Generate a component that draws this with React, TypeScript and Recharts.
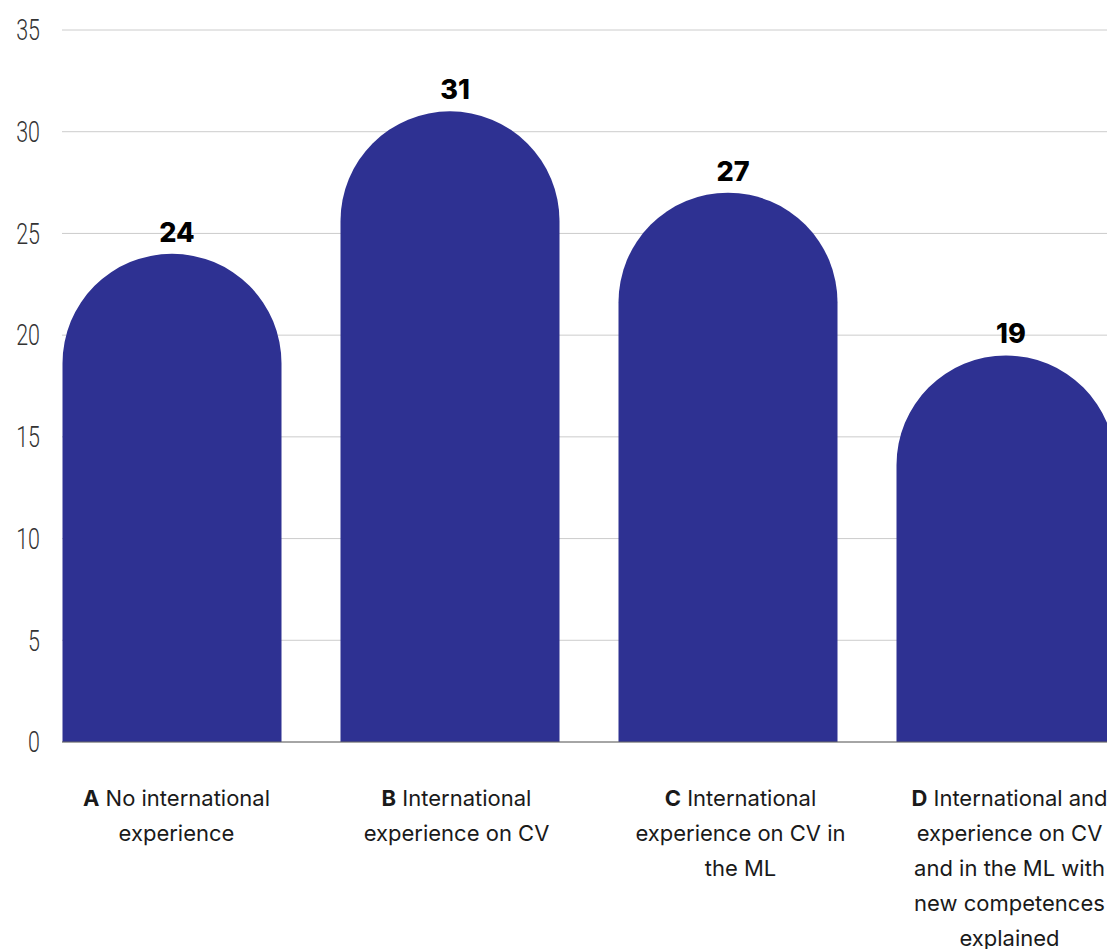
import React from 'react';
import { BarChart, Bar, XAxis, YAxis, CartesianGrid, LabelList } from 'recharts';

const categories = ['A', 'B', 'C', 'D'];
const values = [24, 31, 27, 19];
const labelLines: string[][] = [
  ['No international', 'experience'],
  ['International', 'experience on CV'],
  ['International', 'experience on CV in', 'the ML'],
  ['International and', 'experience on CV', 'and in the ML with', 'new competences', 'explained'],
];
const yTicks = [0, 5, 10, 15, 20, 25, 30, 35];

const data = categories.map((c, i) => ({ cat: c, value: values[i] }));

const BAR_COLOR = '#2E3192';
// horizontal nudges of the category labels (layout only)
const TICK_SHIFT: Record<string, number> = { A: 5, B: 7, C: 13, D: 4 };

const XTick = (props: any) => {
  const { x, y, payload } = props;
  const idx = categories.indexOf(payload.value);
  const lines = labelLines[idx] || [];
  const cx = x + (TICK_SHIFT[payload.value] ?? 5);
  return (
    <g>
      {lines.map((ln, i) => (
        <text
          key={i}
          x={cx}
          y={y + 56 + i * 35}
          textAnchor="middle"
          fontFamily="Inter, 'Noto Sans', sans-serif"
          fontSize={22}
          fill="#1a1a1a"
        >
          {i === 0 ? (
            <>
              <tspan fontWeight={700}>{payload.value}</tspan>
              <tspan> {ln}</tspan>
            </>
          ) : (
            ln
          )}
        </text>
      ))}
    </g>
  );
};

const YTick = (props: any) => {
  const { x, y, payload } = props;
  return (
    <g transform={`translate(${x},${y}) scale(0.74,1)`}>
      <text
        x={0}
        y={0}
        dy="0.355em"
        textAnchor="end"
        fontFamily="Roboto, 'DejaVu Sans', sans-serif"
        fontWeight={300}
        fontSize={29}
        fill="#333333"
      >
        {payload.value}
      </text>
    </g>
  );
};

const ValueLabel = (props: any) => {
  const { x, y, width, value } = props;
  return (
    <text
      x={x + width / 2 + 5}
      y={y - 12}
      textAnchor="middle"
      fontFamily="Inter, 'DejaVu Sans', sans-serif"
      fontWeight={800}
      fontSize={27}
      fill="#000"
    >
      {value}
    </text>
  );
};

export default function App() {
  return (
    <div
      style={{
        position: 'absolute',
        left: 0,
        top: 0,
        width: 1107,
        height: 949,
        overflow: 'hidden',
        background: '#fff',
      }}
    >
      <BarChart
        width={1150}
        height={949}
        data={data}
        margin={{ top: 30, right: 5.5, left: 0, bottom: 0 }}
      >
        <CartesianGrid vertical={false} stroke="#cccccc" strokeWidth={1} />
        <XAxis
          dataKey="cat"
          height={207}
          padding={{ left: -29.5, right: 0 }}
          axisLine={{ stroke: '#666666', strokeWidth: 1 }}
          tickLine={false}
          interval={0}
          tick={<XTick />}
        />
        <YAxis
          width={62}
          domain={[0, 35]}
          ticks={yTicks}
          axisLine={false}
          tickLine={false}
          tickSize={0}
          tickMargin={22}
          tick={<YTick />}
        />
        <Bar
          dataKey="value"
          fill={BAR_COLOR}
          barSize={219}
          radius={[110, 110, 0, 0]}
          isAnimationActive={false}
        >
          <LabelList dataKey="value" content={<ValueLabel />} />
        </Bar>
      </BarChart>
    </div>
  );
}
